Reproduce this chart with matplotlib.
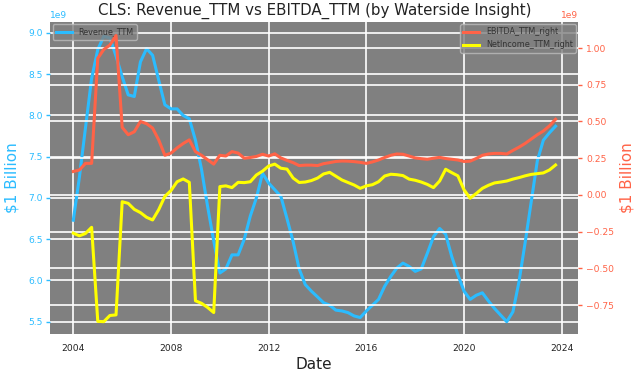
import numpy as np
import pandas as pd
import matplotlib
matplotlib.use("Agg")
import matplotlib.pyplot as plt
import matplotlib.dates as mdates

dates = pd.date_range("2004-01-01", periods=80, freq="QS")

revenue_bn = [6.73, 7.25, 7.85, 8.45, 8.80, 8.96, 8.94, 8.72,
              8.47, 8.25, 8.23, 8.65, 8.81, 8.73, 8.43, 8.13,
              8.08, 8.08, 8.00, 7.96, 7.70, 7.35, 6.90, 6.48,
              6.09, 6.14, 6.31, 6.31, 6.50, 6.78, 7.00, 7.30,
              7.18, 7.10, 7.02, 6.75, 6.47, 6.14, 5.95, 5.87,
              5.80, 5.73, 5.70, 5.64, 5.63, 5.61, 5.57, 5.55,
              5.63, 5.70, 5.77, 5.93, 6.05, 6.15, 6.21, 6.17,
              6.11, 6.14, 6.33, 6.53, 6.63, 6.56, 6.29, 6.07,
              5.87, 5.77, 5.82, 5.85, 5.75, 5.66, 5.58, 5.50,
              5.62, 5.98, 6.45, 6.95, 7.45, 7.70, 7.79, 7.87]

ebitda_bn = [0.16, 0.17, 0.215, 0.215, 0.93, 0.99, 1.02, 1.085,
             0.46, 0.41, 0.43, 0.50, 0.485, 0.455, 0.375, 0.27,
             0.285, 0.32, 0.35, 0.375, 0.295, 0.27, 0.24, 0.21,
             0.27, 0.265, 0.295, 0.285, 0.25, 0.255, 0.262, 0.277,
             0.265, 0.28, 0.252, 0.235, 0.22, 0.20, 0.203, 0.203,
             0.20, 0.213, 0.22, 0.228, 0.231, 0.23, 0.227, 0.222,
             0.215, 0.225, 0.238, 0.255, 0.27, 0.279, 0.277, 0.265,
             0.252, 0.247, 0.243, 0.25, 0.256, 0.248, 0.243, 0.238,
             0.228, 0.23, 0.248, 0.27, 0.279, 0.283, 0.283, 0.279,
             0.303, 0.325, 0.35, 0.38, 0.41, 0.435, 0.47, 0.515]

netincome_bn = [-0.26, -0.278, -0.262, -0.22, -0.86, -0.862, -0.82, -0.816,
                -0.046, -0.057, -0.098, -0.12, -0.152, -0.17, -0.10, -0.01,
                0.03, 0.09, 0.109, 0.086, -0.72, -0.737, -0.765, -0.80,
                0.057, 0.062, 0.05, 0.086, 0.084, 0.09, 0.136, 0.162,
                0.197, 0.21, 0.182, 0.176, 0.115, 0.085, 0.088, 0.098,
                0.115, 0.143, 0.154, 0.128, 0.102, 0.085, 0.068, 0.045,
                0.062, 0.07, 0.09, 0.129, 0.141, 0.138, 0.132, 0.108,
                0.10, 0.088, 0.072, 0.05, 0.095, 0.175, 0.152, 0.13,
                0.035, -0.022, 0.01, 0.045, 0.066, 0.082, 0.088, 0.095,
                0.108, 0.118, 0.13, 0.14, 0.145, 0.15, 0.17, 0.204]

title = "CLS: Revenue_TTM vs EBITDA_TTM (by Waterside Insight)"
c_left = "#2bbcff"
c_right = "tomato"
c_ni = "yellow"

fig = plt.figure(figsize=(6.4, 3.76), dpi=100)
ax = fig.add_axes([0.0786, 0.1109, 0.825, 0.8314])
ax2 = ax.twinx()

for a in (ax, ax2):
    a.set_facecolor("gray")
    for s in a.spines.values():
        s.set_visible(False)
    a.grid(True, color="white", linewidth=1.2)
    a.set_axisbelow(True)
ax2.patch.set_visible(False)
ax.set_zorder(0)
ax2.set_zorder(1)

ax.plot(dates, np.array(revenue_bn) * 1e9, color=c_left, lw=2.2, label="Revenue_TTM")
ax2.plot(dates, np.array(ebitda_bn) * 1e9, color=c_right, lw=2.2, label="EBITDA_TTM_right")
ax2.plot(dates, np.array(netincome_bn) * 1e9, color=c_ni, lw=2.2, label="NetIncome_TTM_right")

ax.set_ylim(5.347e9, 9.137e9)
ax2.set_ylim(-0.948e9, 1.179e9)
ax.set_xlim(pd.Timestamp("2003-01-22"), pd.Timestamp("2024-09-05"))

ax.xaxis.set_major_locator(mdates.YearLocator(4))
ax.xaxis.set_major_formatter(mdates.DateFormatter("%Y"))

ax.tick_params(axis="x", labelsize=6.6, colors="#222222", length=3.5, color="white", pad=3.5)
ax2.tick_params(axis="x", length=0)
ax.tick_params(axis="y", labelsize=6.6, colors=c_left, length=3, width=1, pad=2.5)
ax2.tick_params(axis="y", labelsize=6.6, colors=c_right, length=3, width=1, pad=2.5)
ax.yaxis.get_offset_text().set_fontsize(6.6)
ax.yaxis.get_offset_text().set_color(c_left)
ax2.yaxis.get_offset_text().set_fontsize(6.6)
ax2.yaxis.get_offset_text().set_color(c_right)

ax.set_ylabel("$1 Billion", color=c_left, fontsize=11, labelpad=6)
ax2.set_ylabel("$1 Billion", color=c_right, fontsize=11, labelpad=4)
ax.set_xlabel("Date", fontsize=11, color="#222222", labelpad=3)
ax.set_title(title, fontsize=10.8, color="#222222", pad=5)

leg1 = ax.legend(loc="upper left", fontsize=5.8, facecolor="gray", edgecolor="#bbbbbb",
                 framealpha=0.8, labelcolor="#333333", borderaxespad=0.3)
leg2 = ax2.legend(loc="upper right", fontsize=5.8, facecolor="gray", edgecolor="#bbbbbb",
                  framealpha=0.8, labelcolor="#333333", borderaxespad=0.3)

fig.savefig("out.png", dpi=100)
